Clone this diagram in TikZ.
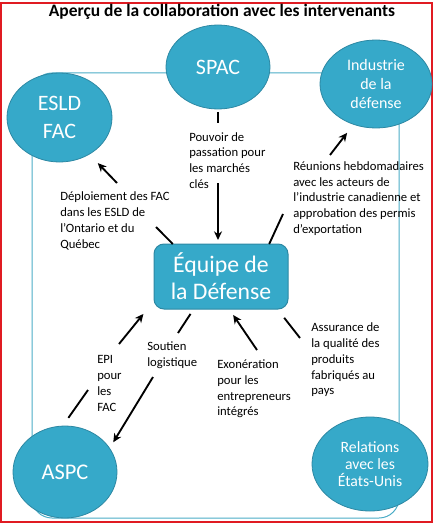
\documentclass[tikz,border=0pt]{standalone}
\usepackage{fontspec}
\setmainfont{Carlito}
\usetikzlibrary{arrows.meta,shapes.geometric}
\definecolor{bulle}{HTML}{36A9C9}
\definecolor{bord}{HTML}{2D88A3}
\definecolor{cadre}{HTML}{4BACC6}
\definecolor{rouge}{HTML}{E01B22}

\begin{document}
\begin{tikzpicture}[x=0.75pt, y=-0.75pt, >={Stealth[length=6.5pt,width=6pt]},
  bulle/.style={ellipse, draw=bord, fill=bulle, text=white, inner sep=0pt, outer sep=0pt, align=center, line width=0.6pt},
  fleche/.style={line width=1.4pt},
  etiq/.style={anchor=west, align=left, inner sep=0pt, font=\fontsize{9.5}{11.8}\selectfont}]

\useasboundingbox (0,0) rectangle (433,524);
\draw[rouge, line width=1.5pt] (1,3) rectangle (431.5,522);
\draw[cadre, line width=0.75pt, rounded corners=15pt] (32,73) rectangle (399,518);

\node[font=\bfseries\fontsize{13.1}{15}\selectfont] (titre) at (222,12) {Aperçu de la collaboration avec les intervenants};

\node[bulle, minimum width=78pt, minimum height=63pt, font=\fontsize{16.5}{19}\selectfont] (spac) at (218,67) {SPAC};
\node[bulle, minimum width=84pt, minimum height=66pt, font=\fontsize{12}{13.9}\selectfont] (ind) at (376,84) {Industrie\\de la\\défense};
\node[bulle, minimum width=78.75pt, minimum height=66.75pt, font=\fontsize{16.5}{21}\selectfont] (esld) at (59.5,117.5) {ESLD\\FAC};
\node[bulle, minimum width=78pt, minimum height=69pt, font=\fontsize{16.8}{19}\selectfont] (aspc) at (65,472) {ASPC};
\node[bulle, minimum width=87pt, minimum height=70.5pt, font=\fontsize{11.8}{12.5}\selectfont] (rel) at (370,464) {Relations\\avec les\\États-Unis};
\node[draw=bord, fill=bulle, text=white, rounded corners=7.5pt, minimum width=100.5pt, minimum height=48.75pt, align=center, inner sep=0pt, outer sep=0pt, line width=0.75pt, font=\fontsize{17.8}{20.5}\selectfont] (equipe) at (221,276.5) {Équipe de\\la Défense};

\node[etiq] (pouvoir) at (189,160.5) {Pouvoir de\\passation pour\\les marchés\\clés};
\node[etiq] (reunions) at (293,198.5) {Réunions hebdomadaires\\avec les acteurs de\\l’industrie canadienne et\\approbation des permis\\d’exportation};
\node[etiq] (deploiement) at (60,221) {Déploiement des FAC\\dans les ESLD de\\l’Ontario et du\\Québec};
\node[etiq] (epi) at (97,383.5) {EPI\\pour\\les\\FAC};
\node[etiq] (soutien) at (147,355) {Soutien\\logistique};
\node[etiq] (exo) at (217,389) {Exonération\\pour les\\entrepreneurs\\intégrés};
\node[etiq] (assur) at (311,360) {Assurance de\\la qualité des\\produits\\fabriqués au\\pays};

\coordinate (p1a) at (218,123);
\coordinate (p1b) at (218,183);
\draw[fleche, shorten <=2.25pt] (spac.south) -- (p1a);
\draw[fleche, ->, shorten >=3pt] (p1b) -- (p1b |- equipe.north);

\coordinate (p2a) at (283,214);
\coordinate (p2b) at (330,155);
\draw[fleche] (equipe.34) -- (p2a);
\draw[fleche, ->, shorten >=8pt] (p2b) -- (ind.241);

\coordinate (p3a) at (156,227);
\coordinate (p3b) at (117,183);
\draw[fleche] (equipe.146) -- (p3a);
\draw[fleche, ->, shorten >=9.3pt] (p3b) -- (esld.309);

\coordinate (p4a) at (88,390);
\coordinate (p4b) at (119,344);
\draw[fleche, shorten <=7.5pt] (aspc.93) -- (p4a);
\draw[fleche, ->, shorten >=12.6pt] (p4b) -- (equipe.200);

\coordinate (p5a) at (178,333);
\coordinate (p5b) at (153,377);
\draw[fleche, shorten <=4.4pt] (equipe.230) -- (p5a);
\draw[fleche, ->, shorten >=5.3pt] (p5b) -- (aspc.28);

\coordinate (p6) at (257,350);
\draw[fleche, ->, shorten >=5.4pt] (p6) -- (equipe.284);

\coordinate (p7) at (300,338);
\draw[fleche, shorten <=8.4pt] (equipe.330) -- (p7);

\end{tikzpicture}
\end{document}
